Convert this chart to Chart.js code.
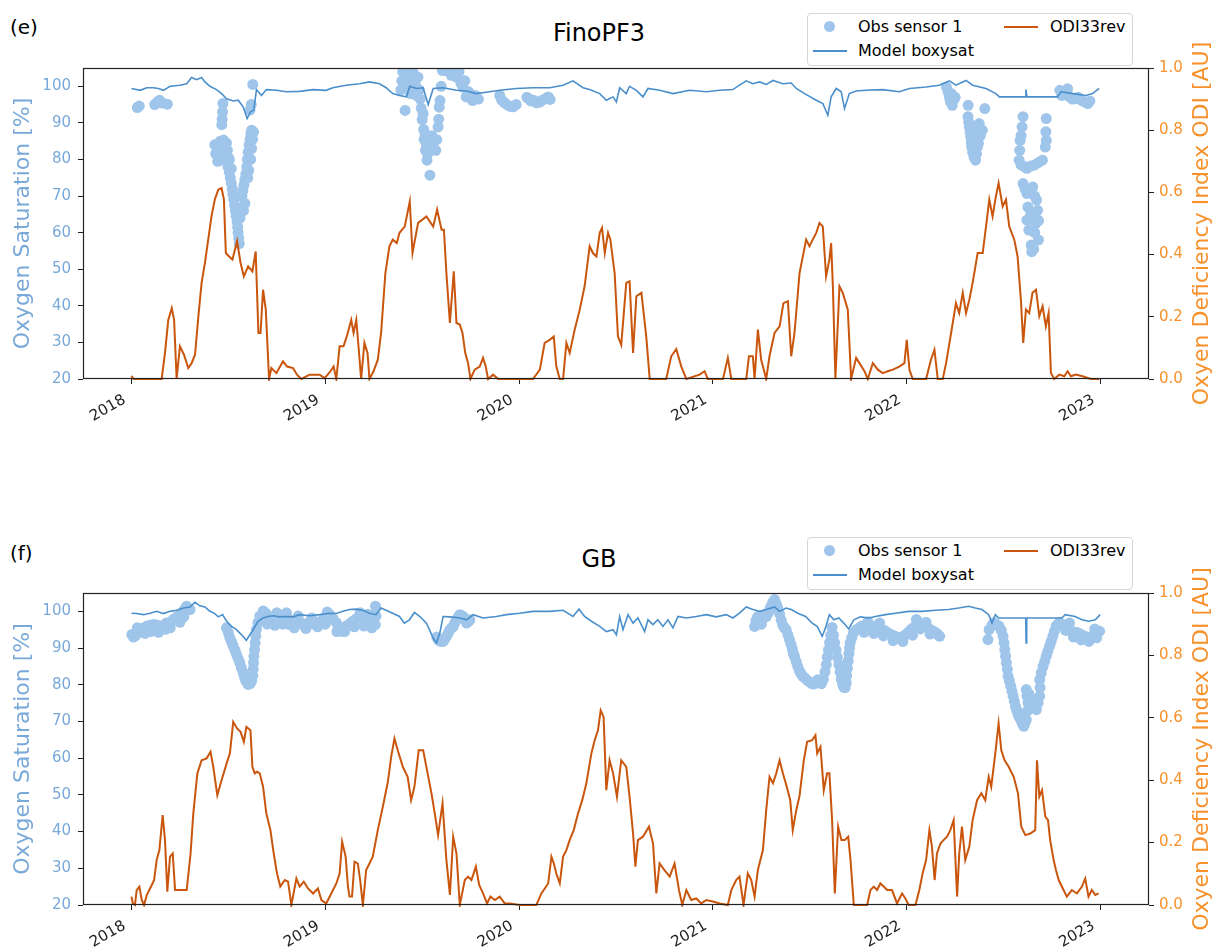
<!DOCTYPE html>
<html>
<head>
<meta charset="utf-8">
<title>FinoPF3 / GB oxygen saturation and ODI</title>
<script src="https://cdn.jsdelivr.net/npm/chart.js@4.4.1/dist/chart.umd.min.js"></script>
<style>
  html, body { margin: 0; padding: 0; background: #fff; }
  body { position: relative; width: 1214px; height: 947px; overflow: hidden; font-family: "DejaVu Sans", sans-serif; color: #000; }
  canvas { position: absolute; left: 0; }
  #chartE { top: 0; }
  #chartF { top: 525px; }
  .tag { position: absolute; left: 10px; font-size: 20px; line-height: 20px; }
  .title { position: absolute; left: 599px; font-size: 24px; line-height: 24px; transform: translateX(-50%); white-space: nowrap; }
  .legend { position: absolute; left: 807px; width: 324px; height: 51px; border: 1px solid #d6d6d6; border-radius: 4px; background: #fff; font-size: 16px; }
  .legend span { position: absolute; line-height: 16px; white-space: nowrap; }
  .legend .dot { width: 11px; height: 11px; border-radius: 50%; }
  .legend .hl { width: 34px; height: 2px; }
</style>
</head>
<body>
<div class="tag" style="top:17px">(e)</div>
<div class="title" style="top:21px">FinoPF3</div>
<canvas id="chartE" width="1214" height="440"></canvas>
<div class="legend" id="legendE" style="top:13px"></div>

<div class="tag" style="top:543px">(f)</div>
<div class="title" style="top:547px">GB</div>
<canvas id="chartF" width="1214" height="422"></canvas>
<div class="legend" id="legendF" style="top:537px"></div>

<script>
// decimal year, value
const yearTicks = [2018, 2019, 2020, 2021, 2022, 2023];
const satTicks = [20, 30, 40, 50, 60, 70, 80, 90, 100];
const odiTicks = [0, 0.2, 0.4, 0.6, 0.8, 1.0];

// ---- FinoPF3 ----
const odiE = [[2018.0,0.01],[2018.01,0],[2018.156,0],[2018.173,0.084],[2018.19,0.19],[2018.208,0.228],[2018.22,0.19],[2018.233,0],[2018.25,0.105],[2018.271,0.078],[2018.293,0.035],[2018.31,0.05],[2018.328,0.078],[2018.345,0.2],[2018.362,0.31],[2018.379,0.373],[2018.396,0.448],[2018.413,0.523],[2018.43,0.577],[2018.448,0.609],[2018.465,0.614],[2018.477,0.577],[2018.487,0.405],[2018.504,0.394],[2018.521,0.384],[2018.545,0.443],[2018.563,0.373],[2018.58,0.33],[2018.602,0.362],[2018.624,0.346],[2018.641,0.41],[2018.655,0.148],[2018.666,0.148],[2018.679,0.287],[2018.693,0.223],[2018.71,0],[2018.722,0.035],[2018.748,0.019],[2018.782,0.057],[2018.803,0.04],[2018.834,0.035],[2018.854,0.014],[2018.877,0],[2018.919,0.014],[2018.971,0.014],[2018.997,0.003],[2019.022,0.021],[2019.043,0.04],[2019.057,0],[2019.074,0.105],[2019.094,0.105],[2019.111,0.137],[2019.134,0.19],[2019.146,0.148],[2019.16,0.19],[2019.173,0.094],[2019.185,0],[2019.202,0.116],[2019.218,0.084],[2019.228,0],[2019.249,0.025],[2019.271,0.062],[2019.288,0.148],[2019.31,0.34],[2019.331,0.427],[2019.348,0.448],[2019.369,0.437],[2019.383,0.47],[2019.41,0.49],[2019.436,0.571],[2019.45,0.405],[2019.479,0.502],[2019.522,0.523],[2019.557,0.49],[2019.577,0.545],[2019.6,0.48],[2019.612,0.48],[2019.625,0.34],[2019.643,0.18],[2019.663,0.346],[2019.677,0.18],[2019.694,0.175],[2019.708,0.148],[2019.722,0.084],[2019.737,0.051],[2019.749,0],[2019.771,0.03],[2019.797,0.04],[2019.814,0.068],[2019.828,0.04],[2019.84,0],[2019.866,0.014],[2019.892,0],[2020.072,0],[2020.107,0.03],[2020.132,0.116],[2020.158,0.126],[2020.179,0.137],[2020.192,0.04],[2020.21,0],[2020.227,0],[2020.244,0.116],[2020.261,0.084],[2020.287,0.159],[2020.313,0.223],[2020.338,0.298],[2020.364,0.427],[2020.381,0.405],[2020.399,0.394],[2020.416,0.47],[2020.428,0.486],[2020.442,0.405],[2020.459,0.47],[2020.471,0.448],[2020.493,0.34],[2020.51,0.137],[2020.527,0.11],[2020.553,0.309],[2020.57,0.314],[2020.588,0.084],[2020.605,0.266],[2020.631,0.277],[2020.656,0.137],[2020.674,0],[2020.759,0],[2020.785,0.073],[2020.811,0.096],[2020.837,0.04],[2020.863,0],[2020.931,0.014],[2020.957,0.025],[2020.974,0],[2021.052,0],[2021.077,0.068],[2021.095,0],[2021.172,0],[2021.186,0.073],[2021.206,0.073],[2021.215,0],[2021.232,0.159],[2021.249,0.062],[2021.275,0],[2021.292,0.073],[2021.318,0.148],[2021.344,0.169],[2021.364,0.244],[2021.387,0.25],[2021.404,0.073],[2021.421,0.148],[2021.447,0.34],[2021.481,0.448],[2021.498,0.427],[2021.515,0.448],[2021.533,0.47],[2021.55,0.502],[2021.567,0.49],[2021.584,0.33],[2021.601,0.384],[2021.61,0.437],[2021.619,0.298],[2021.632,0],[2021.653,0.298],[2021.67,0.277],[2021.696,0.223],[2021.713,0],[2021.739,0.068],[2021.756,0.051],[2021.782,0.025],[2021.799,0],[2021.825,0.051],[2021.851,0.03],[2021.876,0.019],[2021.902,0.025],[2021.928,0.03],[2021.962,0.04],[2021.988,0.051],[2022.0,0.126],[2022.014,0.03],[2022.031,0],[2022.1,0],[2022.125,0.062],[2022.143,0.094],[2022.16,0],[2022.186,0],[2022.203,0.051],[2022.229,0.148],[2022.254,0.244],[2022.271,0.212],[2022.289,0.277],[2022.306,0.212],[2022.323,0.255],[2022.34,0.309],[2022.366,0.405],[2022.392,0.405],[2022.409,0.49],[2022.426,0.577],[2022.443,0.523],[2022.46,0.587],[2022.474,0.63],[2022.495,0.555],[2022.512,0.577],[2022.529,0.49],[2022.555,0.448],[2022.572,0.394],[2022.589,0.255],[2022.601,0.116],[2022.615,0.223],[2022.632,0.212],[2022.649,0.277],[2022.667,0.287],[2022.684,0.202],[2022.701,0.234],[2022.718,0.169],[2022.732,0.212],[2022.744,0.019],[2022.761,0],[2022.787,0.014],[2022.813,0.009],[2022.83,0.025],[2022.847,0.009],[2022.873,0.014],[2022.907,0.009],[2022.95,0],[2022.993,0]];

const modelE = [[2018.0,99.4],[2018.045,98.9],[2018.079,99.6],[2018.113,99.6],[2018.139,99.4],[2018.165,98.9],[2018.199,100],[2018.25,100.3],[2018.285,100.7],[2018.31,102.4],[2018.336,101.8],[2018.362,102.4],[2018.379,101.2],[2018.405,100],[2018.439,99.1],[2018.465,98],[2018.491,96.6],[2018.525,96],[2018.551,96.2],[2018.576,94.4],[2018.597,91.2],[2018.614,93],[2018.631,93.5],[2018.645,99.1],[2018.671,97.5],[2018.696,99.1],[2018.748,98.9],[2018.799,98.5],[2018.868,98.6],[2018.937,99.1],[2019.005,98.9],[2019.039,99.6],[2019.108,100.3],[2019.177,100.7],[2019.228,101.2],[2019.28,100.7],[2019.314,99.6],[2019.348,98],[2019.383,97.5],[2019.419,97.1],[2019.436,100],[2019.471,99.4],[2019.505,99.6],[2019.531,95],[2019.557,99.4],[2019.608,99.6],[2019.677,98.9],[2019.729,98.7],[2019.78,98],[2019.849,98.5],[2019.9,98.9],[2019.986,99.4],[2020.072,99.6],[2020.158,99.6],[2020.227,100.3],[2020.278,101.5],[2020.33,99.6],[2020.364,99.1],[2020.416,98],[2020.45,96.2],[2020.485,97.1],[2020.502,95.7],[2020.519,99.6],[2020.553,98],[2020.57,100],[2020.605,98.9],[2020.639,97.1],[2020.665,99.4],[2020.725,98.9],[2020.794,98],[2020.88,98.9],[2020.966,98.5],[2021.034,98.9],[2021.103,99.1],[2021.137,100.3],[2021.172,101.5],[2021.206,100.7],[2021.241,101.2],[2021.275,100.5],[2021.31,101.6],[2021.361,100.7],[2021.404,100.9],[2021.43,99.4],[2021.473,98],[2021.533,96.2],[2021.567,95.3],[2021.593,92.1],[2021.61,97.1],[2021.636,99.4],[2021.662,98.5],[2021.679,93.9],[2021.704,98],[2021.739,98.7],[2021.79,98.9],[2021.876,99.1],[2021.962,98.5],[2022.014,99.4],[2022.1,99.8],[2022.168,100.3],[2022.22,101.5],[2022.254,100.3],[2022.306,101.6],[2022.34,100.3],[2022.409,99.4],[2022.46,98],[2022.478,97.1],[2022.612,97.1],[2022.615,99.1],[2022.62,97.1],[2022.778,97.1],[2022.796,98.5],[2022.856,98],[2022.924,97.5],[2022.959,98],[2022.993,99.4]];

const obsE = [[2018.03,94.2],[2018.04,94.6],[2018.12,95.0],[2018.135,95.8],[2018.145,96.2],[2018.16,95.4],[2018.185,95.1],
  [2018.472,95.3],[2018.47,93.0],[2018.468,91.0],[2018.466,89.5],[2018.43,84.0],[2018.435,81.5],[2018.44,82.0],[2018.445,83.5],[2018.445,79.5],[2018.45,82.5],[2018.455,81.0],[2018.458,85.0],[2018.46,83.5],[2018.468,84.8],[2018.475,85.3],[2018.482,84.0],[2018.488,82.0],[2018.49,84.5],[2018.495,82.5],[2018.47,80.5],[2018.478,80.0],[2018.49,79.5],[2018.498,78.0],[2018.5,80.5],[2018.505,80.0],[2018.505,76.5],[2018.51,75.0],[2018.515,77.5],[2018.515,73.5],[2018.52,72.0],[2018.523,70.5],[2018.528,69.0],[2018.532,67.5],[2018.536,66.0],[2018.54,64.5],[2018.545,63.0],[2018.548,61.5],[2018.55,60.0],[2018.553,58.5],[2018.556,57.0],[2018.56,64.0],[2018.565,66.5],[2018.57,70.0],[2018.575,71.5],[2018.578,66.0],[2018.58,73.0],[2018.585,68.0],[2018.585,74.5],[2018.59,76.0],[2018.595,78.0],[2018.598,80.0],[2018.6,75.0],[2018.602,82.0],[2018.605,77.0],[2018.607,84.0],[2018.612,85.5],[2018.615,80.0],[2018.616,87.0],[2018.62,88.0],[2018.62,83.0],[2018.625,85.5],[2018.63,87.5],[2018.612,93.5],[2018.618,95.0],[2018.626,100.5],
  [2019.39,99.0],[2019.395,101.5],[2019.4,104.0],[2019.412,93.4],[2019.41,106.0],[2019.42,102.5],[2019.425,104.5],[2019.43,99.5],[2019.44,98.0],[2019.445,101.0],[2019.455,103.5],[2019.465,100.5],[2019.47,97.5],[2019.478,102.5],[2019.485,99.0],[2019.49,96.5],[2019.495,94.0],[2019.5,90.9],[2019.505,92.5],[2019.508,88.2],[2019.51,85.5],[2019.515,87.0],[2019.517,82.5],[2019.522,83.9],[2019.525,79.8],[2019.528,81.5],[2019.54,75.7],[2019.54,84.5],[2019.55,86.5],[2019.56,83.0],[2019.57,82.5],[2019.575,85.4],[2019.582,88.9],[2019.585,91.0],[2019.588,94.3],[2019.592,96.1],[2019.598,100.0],[2019.605,104.3],[2019.615,106.0],[2019.626,104.3],[2019.64,106.0],[2019.65,103.0],[2019.66,105.5],[2019.676,102.5],[2019.69,104.0],[2019.7,100.8],[2019.71,99.8],[2019.72,101.5],[2019.727,97.1],[2019.74,98.5],[2019.76,96.1],[2019.775,97.5],[2019.79,96.5],
  [2019.9,97.5],[2019.91,96.2],[2019.925,95.5],[2019.94,94.9],[2019.955,94.5],[2019.97,94.4],[2019.985,95.0],[2020.04,97.0],[2020.05,96.6],[2020.06,96.0],[2020.075,96.2],[2020.09,95.5],[2020.107,95.7],[2020.12,96.2],[2020.135,96.6],[2020.15,97.1],[2020.16,96.4],
  [2022.205,99.8],[2022.213,98.5],[2022.22,97.0],[2022.225,95.8],[2022.23,98.0],[2022.235,94.8],[2022.245,96.5],[2022.25,97.0],
  [2022.317,94.8],[2022.316,91.7],[2022.32,90.2],[2022.323,88.9],[2022.327,87.5],[2022.33,86.2],[2022.333,84.8],[2022.335,83.5],[2022.34,82.0],[2022.347,80.7],[2022.355,79.8],[2022.36,81.5],[2022.365,83.5],[2022.36,86.0],[2022.37,84.4],[2022.365,88.0],[2022.374,89.8],[2022.38,86.5],[2022.39,88.0],[2022.403,93.9],
  [2022.6,91.7],[2022.595,88.9],[2022.59,86.5],[2022.585,85.2],[2022.583,82.5],[2022.58,79.8],[2022.59,78.5],[2022.608,78.0],[2022.62,77.6],[2022.64,78.2],[2022.66,78.5],[2022.68,79.2],[2022.7,79.8],[2022.72,91.2],[2022.718,87.6],[2022.72,85.2],[2022.715,83.4],
  [2022.6,73.4],[2022.61,72.0],[2022.62,70.7],[2022.65,72.5],[2022.67,68.9],[2022.625,67.0],[2022.675,66.1],[2022.62,63.4],[2022.665,62.5],[2022.68,63.3],[2022.63,60.7],[2022.68,58.0],[2022.642,56.6],[2022.645,54.8],[2022.655,55.5],[2022.66,60.0],[2022.64,65.0],[2022.66,70.0],
  [2022.79,98.9],[2022.8,97.5],[2022.815,98.0],[2022.83,99.3],[2022.84,97.1],[2022.855,96.5],[2022.868,96.6],[2022.885,97.0],[2022.9,96.2],[2022.915,95.8],[2022.934,95.3],[2022.945,96.0]];

// ---- GB ----
const odiF = [[2018.0,0.027],[2018.007,0.005],[2018.018,0],[2018.027,0.048],[2018.041,0.059],[2018.053,0.016],[2018.065,0],[2018.079,0.032],[2018.105,0.064],[2018.117,0.08],[2018.13,0.144],[2018.144,0.176],[2018.161,0.288],[2018.173,0.208],[2018.185,0.043],[2018.199,0.155],[2018.213,0.165],[2018.225,0.048],[2018.25,0.048],[2018.285,0.048],[2018.305,0.165],[2018.319,0.293],[2018.34,0.422],[2018.362,0.464],[2018.388,0.47],[2018.408,0.491],[2018.422,0.443],[2018.443,0.352],[2018.465,0.4],[2018.491,0.454],[2018.508,0.486],[2018.525,0.587],[2018.545,0.566],[2018.563,0.555],[2018.58,0.523],[2018.593,0.571],[2018.614,0.56],[2018.624,0.443],[2018.636,0.422],[2018.648,0.427],[2018.662,0.422],[2018.679,0.379],[2018.696,0.293],[2018.717,0.24],[2018.734,0.165],[2018.751,0.101],[2018.768,0.059],[2018.791,0.08],[2018.808,0.075],[2018.825,0],[2018.851,0.085],[2018.868,0.059],[2018.889,0.075],[2018.911,0.053],[2018.937,0.037],[2018.962,0.053],[2018.98,0.016],[2019.005,0.005],[2019.031,0.037],[2019.057,0.069],[2019.074,0.101],[2019.087,0.203],[2019.105,0.155],[2019.117,0.059],[2019.125,0.027],[2019.138,0.027],[2019.151,0.139],[2019.168,0.133],[2019.18,0.08],[2019.194,0],[2019.211,0.112],[2019.228,0.133],[2019.245,0.155],[2019.271,0.24],[2019.297,0.315],[2019.323,0.395],[2019.34,0.475],[2019.357,0.534],[2019.374,0.496],[2019.4,0.443],[2019.425,0.411],[2019.443,0.336],[2019.46,0.379],[2019.482,0.496],[2019.505,0.496],[2019.548,0.358],[2019.565,0.293],[2019.582,0.224],[2019.605,0.326],[2019.625,0.144],[2019.643,0.032],[2019.66,0.219],[2019.677,0.165],[2019.694,0],[2019.72,0.08],[2019.737,0.091],[2019.754,0.08],[2019.777,0.123],[2019.794,0.064],[2019.814,0.037],[2019.835,0.005],[2019.852,0.027],[2019.875,0.016],[2019.9,0.027],[2019.926,0.005],[2019.952,0.005],[2020.003,0],[2020.089,0],[2020.115,0.037],[2020.15,0.069],[2020.167,0.155],[2020.179,0.133],[2020.192,0.101],[2020.21,0.069],[2020.227,0.155],[2020.244,0.176],[2020.261,0.208],[2020.282,0.24],[2020.304,0.293],[2020.326,0.336],[2020.347,0.39],[2020.373,0.486],[2020.39,0.528],[2020.407,0.56],[2020.421,0.624],[2020.436,0.603],[2020.45,0.368],[2020.467,0.464],[2020.485,0.422],[2020.505,0.347],[2020.527,0.464],[2020.553,0.443],[2020.57,0.347],[2020.588,0.229],[2020.6,0.123],[2020.613,0.208],[2020.639,0.219],[2020.67,0.251],[2020.691,0.197],[2020.708,0.037],[2020.725,0.133],[2020.75,0.112],[2020.777,0.091],[2020.802,0.133],[2020.825,0.048],[2020.842,0],[2020.863,0.048],[2020.888,0.016],[2020.914,0.021],[2020.94,0.005],[2020.966,0.016],[2021.0,0.011],[2021.035,0.005],[2021.077,0],[2021.095,0.048],[2021.12,0.08],[2021.137,0.091],[2021.158,0],[2021.18,0.101],[2021.198,0.08],[2021.215,0.027],[2021.232,0.112],[2021.258,0.176],[2021.275,0.304],[2021.292,0.411],[2021.31,0.39],[2021.327,0.422],[2021.344,0.464],[2021.361,0.422],[2021.381,0.379],[2021.399,0.336],[2021.412,0.24],[2021.43,0.304],[2021.447,0.35],[2021.469,0.464],[2021.486,0.523],[2021.512,0.528],[2021.529,0.544],[2021.538,0.486],[2021.555,0.507],[2021.572,0.368],[2021.589,0.422],[2021.601,0.422],[2021.615,0.272],[2021.629,0.037],[2021.646,0.251],[2021.663,0.208],[2021.68,0.208],[2021.698,0.219],[2021.71,0.144],[2021.727,0],[2021.796,0],[2021.813,0.048],[2021.83,0.059],[2021.847,0.048],[2021.864,0.069],[2021.881,0.059],[2021.899,0.048],[2021.924,0.048],[2021.95,0.005],[2021.976,0.037],[2021.993,0.021],[2022.01,0],[2022.045,0],[2022.065,0.048],[2022.082,0.101],[2022.1,0.144],[2022.117,0.24],[2022.13,0.187],[2022.144,0.08],[2022.156,0.165],[2022.174,0.197],[2022.19,0.208],[2022.208,0.219],[2022.225,0.24],[2022.242,0.272],[2022.26,0.027],[2022.271,0.165],[2022.285,0.251],[2022.302,0.144],[2022.323,0.187],[2022.34,0.272],[2022.363,0.336],[2022.385,0.358],[2022.405,0.336],[2022.423,0.411],[2022.436,0.379],[2022.457,0.486],[2022.474,0.582],[2022.488,0.496],[2022.505,0.464],[2022.526,0.443],[2022.552,0.411],[2022.574,0.358],[2022.591,0.251],[2022.612,0.224],[2022.637,0.229],[2022.663,0.24],[2022.672,0.464],[2022.684,0.347],[2022.698,0.368],[2022.715,0.283],[2022.729,0.272],[2022.74,0.208],[2022.758,0.144],[2022.77,0.112],[2022.784,0.08],[2022.809,0.048],[2022.826,0.027],[2022.852,0.048],[2022.878,0.037],[2022.904,0.059],[2022.921,0.085],[2022.938,0.027],[2022.955,0.048],[2022.973,0.032],[2022.99,0.037]];

const modelF = [[2018.0,99.5],[2018.027,99.4],[2018.062,99.1],[2018.096,99.5],[2018.13,100],[2018.165,99.4],[2018.199,100],[2018.233,100.3],[2018.268,100.9],[2018.302,101.2],[2018.328,102.5],[2018.353,101.5],[2018.379,101.2],[2018.405,100],[2018.43,99.4],[2018.448,98.5],[2018.47,99.1],[2018.491,97.3],[2018.516,95.9],[2018.542,95],[2018.568,93.6],[2018.593,92.1],[2018.61,93.6],[2018.628,95],[2018.653,97.3],[2018.679,98.2],[2018.705,98.6],[2018.731,98.8],[2018.765,98.5],[2018.8,98.6],[2018.834,98.5],[2018.868,99.1],[2018.919,98.8],[2018.971,99.1],[2019.022,99.5],[2019.057,99.4],[2019.091,100],[2019.125,100.5],[2019.16,100.6],[2019.194,100.3],[2019.228,99.5],[2019.262,99.1],[2019.288,100.9],[2019.314,100.3],[2019.348,99.5],[2019.383,98.6],[2019.408,96.8],[2019.434,97.7],[2019.46,99.7],[2019.488,98.6],[2019.522,96.8],[2019.557,92.7],[2019.574,91.4],[2019.591,94.1],[2019.608,98.6],[2019.643,98.5],[2019.694,98.2],[2019.729,97.7],[2019.763,99.1],[2019.814,98.2],[2019.883,98.6],[2019.935,99.1],[2020.003,99.5],[2020.072,100],[2020.158,100],[2020.227,100.3],[2020.278,98.6],[2020.309,100.6],[2020.338,98.6],[2020.373,97.3],[2020.416,95.9],[2020.45,94.5],[2020.485,95],[2020.502,93.6],[2020.519,98.6],[2020.536,95],[2020.562,99.1],[2020.588,96.8],[2020.613,98.2],[2020.648,94.5],[2020.665,97.7],[2020.691,96.4],[2020.716,97.7],[2020.742,95.9],[2020.768,97.7],[2020.794,95.5],[2020.82,98.6],[2020.863,98.2],[2020.914,98.6],[2020.966,99.1],[2021.017,98.5],[2021.069,99.1],[2021.103,98.2],[2021.137,99.5],[2021.172,101.2],[2021.206,100.5],[2021.241,100],[2021.275,100.5],[2021.318,101.2],[2021.344,100],[2021.378,100.9],[2021.404,100.5],[2021.438,99.5],[2021.478,98.6],[2021.512,96.8],[2021.538,95.9],[2021.564,93.2],[2021.581,95.5],[2021.601,99.1],[2021.624,97.7],[2021.65,98.2],[2021.675,96.8],[2021.701,95.2],[2021.727,97.7],[2021.761,98.5],[2021.804,98.2],[2021.838,98.6],[2021.89,99.1],[2021.942,99.5],[2022.01,100],[2022.079,100],[2022.148,100.3],[2022.216,100.5],[2022.268,100.9],[2022.32,101.4],[2022.354,100.9],[2022.388,100.5],[2022.423,99.1],[2022.44,96.8],[2022.457,99.1],[2022.474,98.2],[2022.614,98.2],[2022.616,91.4],[2022.619,98.2],[2022.8,98.2],[2022.818,99.1],[2022.869,98.6],[2022.904,97.7],[2022.938,97.3],[2022.973,97.7],[2022.998,99.1]];

const obsF = [[2018.002,93.7],[2018.01,93.0],[2018.02,93.3],[2018.032,94.3],[2018.045,95.1],[2018.06,95.4],[2018.08,96.0],[2018.097,96.2],[2018.114,96.4],[2018.13,96.3],[2018.149,96.0],[2018.162,95.3],[2018.175,95.1],[2018.19,96.5],[2018.205,97.2],[2018.216,97.8],[2018.23,98.3],[2018.242,98.7],[2018.259,99.6],[2018.272,100.5],[2018.285,101.4],[2018.302,100.5],
  [2018.03,95.5],[2018.07,94.0],[2018.1,94.5],[2018.14,94.3],[2018.18,96.8],[2018.2,95.5],[2018.25,97.0],[2018.27,98.5],
  [2018.49,95.5],[2018.5,94.1],[2018.508,92.8],[2018.517,91.6],[2018.525,90.5],[2018.534,89.4],[2018.542,88.3],[2018.55,87.2],[2018.559,86.0],[2018.567,84.6],[2018.576,83.3],[2018.583,82.1],[2018.59,81.0],[2018.602,80.1],[2018.612,80.3],[2018.62,81.0],[2018.626,82.5],[2018.628,84.2],[2018.63,86.0],[2018.632,87.8],[2018.635,89.6],[2018.638,91.4],[2018.641,93.3],[2018.645,95.1],[2018.652,96.9],[2018.662,98.7],[2018.68,100.1],[2018.695,99.4],[2018.705,98.7],[2018.718,98.2],[2018.73,97.8],[2018.748,98.0],[2018.765,98.2],[2018.782,99.0],[2018.8,99.6],[2018.808,98.0],[2018.816,96.4],[2018.833,97.1],[2018.85,97.8],[2018.868,97.1],[2018.885,96.4],[2018.902,96.6],[2018.92,96.9],[2018.937,96.6],[2018.954,96.4],[2018.971,97.1],[2018.988,97.8],[2019.005,98.5],[2019.022,99.2],[2019.04,98.0],[2019.057,96.9],[2019.07,95.7],[2019.082,94.6],[2019.095,95.3],[2019.108,96.0],[2019.125,96.6],[2019.142,97.3],[2019.16,98.0],[2019.176,98.7],[2019.193,98.2],[2019.21,97.8],[2019.228,97.3],[2019.245,96.9],[2019.252,99.0],[2019.259,101.4],[2019.262,98.7],[2019.258,96.4],
  [2018.7,96.5],[2018.74,96.2],[2018.78,96.5],[2018.84,95.5],[2018.9,95.3],[2018.96,95.8],[2019.0,96.5],[2019.06,94.5],[2019.1,94.5],[2019.15,95.8],[2019.2,96.0],[2019.24,95.5],[2018.75,99.6],[2018.86,98.7],[2018.93,98.2],[2019.01,99.8],[2019.18,99.6],[2019.22,99.2],
  [2019.575,93.0],[2019.582,92.3],[2019.595,91.8],[2019.608,91.8],[2019.617,92.5],[2019.625,93.2],[2019.635,94.1],[2019.643,95.0],[2019.652,95.5],[2019.66,95.9],[2019.668,96.8],[2019.677,97.7],[2019.686,98.4],[2019.694,99.1],[2019.703,98.8],[2019.711,98.6],[2019.72,97.7],[2019.729,96.8],[2019.738,97.2],[2019.746,97.7],
  [2021.215,95.9],[2021.222,97.5],[2021.23,98.5],[2021.24,97.7],[2021.25,96.5],[2021.258,98.0],[2021.267,99.0],[2021.275,98.6],[2021.285,99.5],[2021.293,100.5],[2021.3,101.4],[2021.309,102.5],[2021.318,103.2],[2021.327,102.0],[2021.335,100.9],[2021.344,99.3],[2021.352,97.7],[2021.36,96.3],[2021.368,95.6],[2021.378,95.0],[2021.387,93.6],[2021.395,92.3],[2021.403,91.0],[2021.41,89.7],[2021.415,88.5],[2021.421,87.7],[2021.43,86.3],[2021.438,85.0],[2021.447,83.7],[2021.455,83.0],[2021.464,82.3],[2021.475,81.8],[2021.487,81.2],[2021.5,80.7],[2021.51,80.3],[2021.52,80.2],[2021.53,80.5],[2021.541,81.4],[2021.55,80.8],[2021.56,80.3],[2021.57,81.5],[2021.578,83.5],[2021.585,85.5],[2021.59,87.5],[2021.596,89.5],[2021.602,91.5],[2021.608,93.5],[2021.615,95.6],[2021.622,93.5],[2021.628,91.5],[2021.635,89.5],[2021.642,87.5],[2021.65,85.5],[2021.656,83.5],[2021.662,81.5],[2021.67,80.0],[2021.676,79.3],[2021.682,79.2],[2021.688,80.5],[2021.69,82.5],[2021.694,84.5],[2021.698,86.5],[2021.702,88.5],[2021.705,90.0],[2021.708,91.4],[2021.716,92.8],[2021.725,94.1],[2021.74,95.0],[2021.755,95.5],[2021.768,96.0],[2021.785,95.8],[2021.8,96.0],[2021.82,96.0],[2021.835,95.8],[2021.85,95.5],[2021.87,95.1],[2021.885,94.8],[2021.9,94.3],[2021.92,93.7],[2021.935,93.3],[2021.95,93.0],[2021.973,92.8],[2021.99,93.5],[2022.007,94.3],[2022.023,95.1],[2022.04,95.8],[2022.055,96.5],[2022.066,96.9],[2022.08,96.5],[2022.095,96.0],[2022.109,95.5],[2022.123,95.0],[2022.138,94.6],[2022.152,94.1],[2022.162,93.6],[2022.17,93.2],
  [2021.78,94.3],[2021.83,94.0],[2021.88,93.3],[2021.93,92.0],[2021.98,91.8],[2022.03,93.5],[2022.07,95.2],[2022.12,93.8],[2021.8,97.2],[2021.86,96.8],[2022.05,97.8],[2022.1,97.0],
  [2022.419,92.3],[2022.425,95.0],[2022.44,96.2],[2022.45,96.9],[2022.462,96.5],[2022.476,96.0],[2022.488,94.8],[2022.497,93.2],[2022.502,91.4],[2022.506,89.6],[2022.51,87.8],[2022.514,86.0],[2022.519,84.2],[2022.523,82.3],[2022.53,81.0],[2022.537,79.6],[2022.543,78.2],[2022.549,76.9],[2022.555,75.5],[2022.561,74.1],[2022.568,73.0],[2022.575,71.8],[2022.583,70.9],[2022.592,70.0],[2022.598,69.3],[2022.604,68.7],[2022.61,69.6],[2022.617,70.5],[2022.622,72.8],[2022.626,75.1],[2022.62,77.0],[2022.617,78.7],[2022.63,77.5],[2022.643,76.2],[2022.656,74.7],[2022.669,73.2],[2022.678,75.0],[2022.686,76.9],[2022.688,79.2],[2022.686,81.4],[2022.694,83.2],[2022.703,85.0],[2022.712,86.4],[2022.72,87.8],[2022.728,89.1],[2022.737,90.5],[2022.745,91.8],[2022.754,93.2],[2022.762,94.6],[2022.771,96.0],[2022.78,96.5],[2022.789,96.9],[2022.802,96.5],[2022.815,96.0],[2022.832,95.3],[2022.849,94.6],[2022.866,94.4],[2022.883,94.2],[2022.9,93.7],[2022.918,93.2],[2022.931,93.0],[2022.944,92.8],[2022.957,93.2],[2022.969,93.7],[2022.982,94.1],[2022.995,94.6],
  [2022.82,94.8],[2022.86,93.0],[2022.9,92.2],[2022.94,91.8],[2022.98,92.8],[2022.84,96.8],[2022.97,95.2]];

const BLUE_TXT = "#79a9d9";
const ORANGE_TXT = "#f7912c";
const OBS_COLOR = "#9fc5ea";
const MODEL_COLOR = "#4a8fcb";
const ODI_COLOR = "#c9560c";
const FONT = '"DejaVu Sans", sans-serif';

Chart.defaults.font.family = FONT;
Chart.defaults.font.size = 15;

// box round the plot + right axis title (reads bottom to top like the original)
const framePlugin = {
  id: "frame",
  afterDraw(chart) {
    const { ctx, chartArea: a } = chart;
    ctx.save();
    ctx.strokeStyle = "#222";
    ctx.lineWidth = 1.2;
    ctx.strokeRect(a.left + 0.5, a.top + 0.5, a.right - a.left - 1, a.bottom - a.top - 1);
    ctx.fillStyle = ORANGE_TXT;
    ctx.font = "22px " + FONT;
    ctx.textAlign = "center";
    ctx.textBaseline = "middle";
    ctx.translate(chart.width - 12, (a.top + a.bottom) / 2);
    ctx.rotate(-Math.PI / 2);
    ctx.fillText("Oxyen Deficiency Index ODI [AU]", 0, 0);
    ctx.restore();
  },
};

function toXY(arr) {
  return arr.map((p) => ({ x: p[0], y: p[1] }));
}

function setTicks(list) {
  return function (scale) {
    scale.ticks = list.map((v) => ({ value: v }));
  };
}

function makeChart(id, odi, model, obs, xHeight) {
  return new Chart(document.getElementById(id), {
    type: "scatter",
    data: {
      datasets: [
        {
          label: "ODI33rev",
          data: toXY(odi),
          yAxisID: "y1",
          showLine: true,
          borderColor: ODI_COLOR,
          borderWidth: 2,
          pointRadius: 0,
          clip: { left: 0, top: 0, right: 0, bottom: 2 },
        },
        {
          label: "Model boxysat",
          data: toXY(model),
          yAxisID: "y",
          showLine: true,
          borderColor: MODEL_COLOR,
          borderWidth: 1.6,
          pointRadius: 0,
          clip: 0,
        },
        {
          label: "Obs sensor 1",
          data: toXY(obs),
          yAxisID: "y",
          backgroundColor: OBS_COLOR,
          borderWidth: 0,
          pointRadius: 5.5,
          clip: 0,
        },
      ],
    },
    options: {
      responsive: false,
      animation: false,
      events: [],
      layout: { padding: { top: 68, left: 0, right: 0, bottom: 0 } },
      plugins: { legend: { display: false }, tooltip: { enabled: false } },
      scales: {
        x: {
          type: "linear",
          min: 2017.75,
          max: 2023.25,
          afterBuildTicks: setTicks(yearTicks),
          afterFit: (s) => { s.height = xHeight; },
          border: { display: false },
          grid: { drawOnChartArea: false, drawTicks: true, tickLength: 5, tickColor: "#222" },
          ticks: {
            color: "#222",
            minRotation: 30,
            maxRotation: 30,
            autoSkip: false,
            padding: 7,
            labelOffset: -7,
            callback: (v) => String(v),
          },
        },
        y: {
          position: "left",
          min: 20,
          max: 105,
          afterBuildTicks: setTicks(satTicks),
          afterFit: (s) => { s.width = 83; },
          border: { display: false },
          grid: { drawOnChartArea: false, drawTicks: true, tickLength: 5, tickColor: "#222" },
          ticks: { color: BLUE_TXT, padding: 7, callback: (v) => String(v) },
          title: {
            display: true,
            text: "Oxygen Saturation [%]",
            color: BLUE_TXT,
            font: { size: 22, lineHeight: 1 },
            padding: { top: 12, bottom: 0 },
          },
        },
        y1: {
          position: "right",
          min: 0,
          max: 1,
          afterBuildTicks: setTicks(odiTicks),
          afterFit: (s) => { s.width = 65; },
          border: { display: false },
          grid: { drawOnChartArea: false, drawTicks: true, tickLength: 5, tickColor: "#222" },
          ticks: { color: ORANGE_TXT, padding: 5, callback: (v) => v.toFixed(1) },
        },
      },
    },
    plugins: [framePlugin],
  });
}

function buildLegend(id) {
  const box = document.getElementById(id);
  box.innerHTML =
    '<span class="dot" style="left:16px;top:7px;background:' + OBS_COLOR + '"></span>' +
    '<span style="left:50px;top:5px">Obs sensor 1</span>' +
    '<span class="hl" style="left:196px;top:12px;background:' + ODI_COLOR + '"></span>' +
    '<span style="left:242px;top:5px">ODI33rev</span>' +
    '<span class="hl" style="left:5px;top:36px;background:' + MODEL_COLOR + '"></span>' +
    '<span style="left:50px;top:29px">Model boxysat</span>';
}

makeChart("chartE", odiE, modelE, obsE, 61);
makeChart("chartF", odiF, modelF, obsF, 42);
buildLegend("legendE");
buildLegend("legendF");
</script>
</body>
</html>
